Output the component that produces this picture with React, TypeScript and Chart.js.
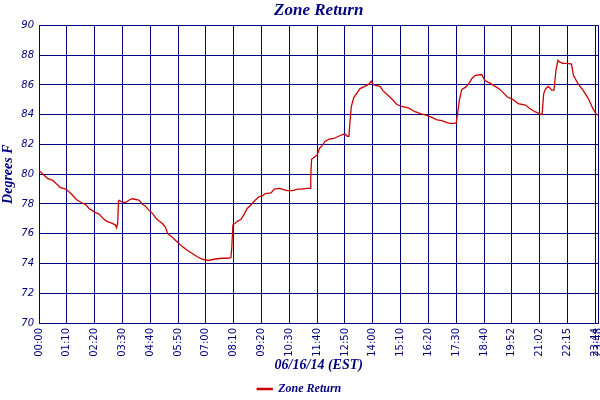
import React, { useEffect, useRef } from 'react';
import { Chart, registerables } from 'chart.js';

Chart.register(...registerables);

// sample index (nominal 2-minute samples) and zone return temperature (°F)
const SAMPLE_IDX = [
  0, 5, 11, 17, 22, 27, 34, 38, 42, 47, 53, 59, 63, 70, 76, 81, 85, 92, 96, 97.5,
  99, 100, 101, 105, 109, 113, 117, 122, 126, 130, 134, 138, 143, 147, 151, 155, 159, 162, 167, 174,
  180, 186, 192, 199, 205, 213, 222, 230, 238, 241.5, 242.5, 244, 247, 250, 254, 258, 262, 267, 271, 277,
  281, 285, 292, 296, 302, 306, 312, 319, 325, 331, 337, 341, 342, 343, 348, 350, 353, 356, 360, 365,
  371, 377, 381, 385, 388, 390, 391.5, 393, 396, 400, 404, 410, 415, 418, 421, 425, 429, 433, 437, 444,
  450, 456, 465, 473, 481, 488, 495, 501, 507, 514, 520, 525, 527, 529, 532, 537, 541, 545, 549, 557,
  561, 568, 574, 580, 589, 597, 603, 612, 618, 624, 630, 633, 635, 637.5, 641, 645, 648, 650.5, 653, 655,
  659, 665, 670, 672.5, 678, 685, 691, 697, 701, 704,
];
const ZONE_RETURN = [
  80.25, 80.0, 79.7, 79.6, 79.35, 79.1, 79.0, 78.8, 78.6, 78.3, 78.1, 77.95, 77.7, 77.45, 77.3, 77.0, 76.85, 76.7, 76.6, 76.4,
  76.7, 78.2, 78.25, 78.1, 78.1, 78.25, 78.35, 78.3, 78.25, 78.0, 77.85, 77.6, 77.35, 77.05, 76.85, 76.7, 76.45, 76.0, 75.8, 75.45,
  75.15, 74.9, 74.7, 74.45, 74.3, 74.2, 74.3, 74.35, 74.35, 74.4, 75.0, 76.6, 76.7, 76.85, 76.95, 77.3, 77.7, 77.95, 78.2, 78.5,
  78.55, 78.7, 78.75, 79.0, 79.05, 79.0, 78.9, 78.9, 79.0, 79.0, 79.05, 79.05, 80.0, 81.0, 81.2, 81.3, 81.75, 81.9, 82.2, 82.35,
  82.4, 82.55, 82.65, 82.7, 82.55, 82.55, 83.65, 84.55, 85.15, 85.45, 85.75, 85.9, 86.05, 86.25, 86.0, 85.95, 85.9, 85.6, 85.4, 85.05,
  84.7, 84.55, 84.45, 84.2, 84.05, 83.95, 83.8, 83.65, 83.6, 83.45, 83.4, 83.45, 84.2, 85.0, 85.7, 85.85, 86.1, 86.45, 86.65, 86.7,
  86.3, 86.1, 85.9, 85.7, 85.2, 85.0, 84.75, 84.65, 84.4, 84.2, 84.05, 84.0, 85.4, 85.75, 85.9, 85.65, 85.65, 87.0, 87.65, 87.55,
  87.45, 87.45, 87.4, 86.65, 86.1, 85.6, 85.1, 84.4, 84.05, 83.95,
];

const TICK_POS = [0, 35, 70, 105, 140, 175, 210, 245, 280, 315, 350, 385, 420, 455, 490, 525, 560, 595, 630, 665, 700, 704];
const TICK_LABELS = [
  '00:00', '01:10', '02:20', '03:30', '04:40', '05:50', '07:00', '08:10', '09:20', '10:30', '11:40',
  '12:50', '14:00', '15:10', '16:20', '17:30', '18:40', '19:52', '21:02', '22:15', '23:44', '23:48',
];

const NAVY = '#000080';
const RED = '#CC0000';
const TITLE_FONT = 'Liberation Serif';
const TICK_FONT = 'DejaVu Sans';

export default function App() {
  const ref = useRef<HTMLCanvasElement>(null);

  useEffect(() => {
    const chart = new Chart(ref.current!, {
      type: 'line',
      data: {
        datasets: [
          {
            label: 'Zone Return',
            data: SAMPLE_IDX.map((x, i) => ({ x, y: ZONE_RETURN[i] })),
            borderColor: RED,
            backgroundColor: RED,
            borderWidth: 1.3,
            pointRadius: 0,
            tension: 0,
          },
        ],
      },
      options: {
        responsive: false,
        animation: false,
        layout: { padding: { left: 0, right: 1.5, top: 0, bottom: -5 } },
        plugins: {
          title: {
            display: true,
            text: 'Zone Return',
            color: NAVY,
            fullSize: false,
            font: { family: TITLE_FONT, size: 17, style: 'italic', weight: 'bold' },
            padding: { top: 0, bottom: 5 },
          },
          legend: {
            position: 'bottom',
            labels: {
              color: NAVY,
              font: { family: TITLE_FONT, size: 12, style: 'italic', weight: 'bold' },
              boxWidth: 15,
              boxHeight: 1,
              padding: 8,
            },
          },
          tooltip: { enabled: false },
        },
        scales: {
          x: {
            type: 'linear',
            min: 0,
            max: 704,
            afterBuildTicks: (axis: any) => {
              axis.ticks = TICK_POS.map((v) => ({ value: v }));
            },
            afterFit: (s: any) => {
              s.height = 52;
              s.paddingRight = 0;
              s.paddingLeft = 0;
            },
            ticks: {
              autoSkip: false,
              maxRotation: 90,
              minRotation: 90,
              color: NAVY,
              padding: 5,
              font: { family: TICK_FONT, size: 10 },
              callback: (_v: any, i: number) => TICK_LABELS[i],
            },
            grid: { color: NAVY, lineWidth: 1, drawTicks: false },
            border: { color: NAVY, width: 1 },
            title: {
              display: true,
              text: '06/16/14 (EST)',
              color: NAVY,
              font: { family: TITLE_FONT, size: 14, style: 'italic', weight: 'bold' },
              padding: { top: 2, bottom: 1 },
            },
          },
          y: {
            min: 70,
            max: 90,
            afterFit: (s: any) => {
              s.width = 39;
              s.paddingTop = 0;
              s.paddingBottom = 0;
            },
            ticks: {
              stepSize: 2,
              color: NAVY,
              padding: 5,
              font: { family: TICK_FONT, size: 10, style: 'italic' },
            },
            grid: { color: NAVY, lineWidth: 1, drawTicks: false },
            border: { color: NAVY, width: 1 },
            title: {
              display: true,
              text: 'Degrees F',
              color: NAVY,
              font: { family: TITLE_FONT, size: 14, style: 'italic', weight: 'bold' },
              padding: { top: 0, bottom: 0 },
            },
          },
        },
      },
    });
    return () => chart.destroy();
  }, []);

  return (
    <div style={{ position: 'absolute', left: 0, top: 0, width: 600, height: 400, background: '#fff' }}>
      <canvas ref={ref} width={600} height={400} />
    </div>
  );
}
